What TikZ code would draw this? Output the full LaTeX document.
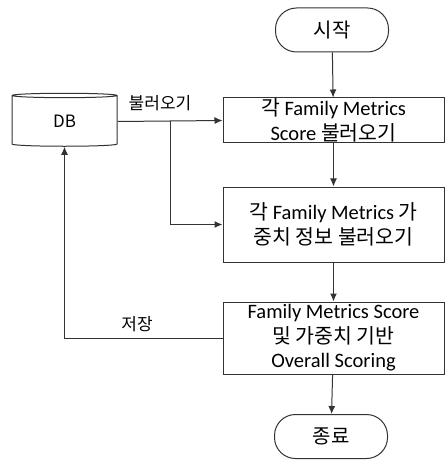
\documentclass[tikz,border=0pt]{standalone}
\usepackage{fontspec}
\setmainfont{Carlito}
\newfontfamily\kr{Noto Sans CJK KR}
\usetikzlibrary{shapes.geometric,arrows.meta}

\tikzset{
  terminal/.style={draw=black!80, line width=1pt, rounded corners=21pt,
    minimum width=113pt, minimum height=44pt, font=\kr\fontsize{20}{24}\selectfont},
  process/.style={draw=black!80, line width=1pt, minimum width=221pt,
    align=center, inner sep=0pt, font=\fontsize{20.5}{24.5}\selectfont},
  database/.style={draw=black!80, line width=1pt, cylinder, shape border rotate=90,
    aspect=0.15, minimum width=105pt, minimum height=53pt,
    font=\kr\fontsize{17}{20}\selectfont},
  flow/.style={draw=black!80, line width=1pt, -{Latex[length=8pt,width=7pt]}},
  tag/.style={font=\kr\fontsize{17}{20}\selectfont}
}

\begin{document}
\begin{tikzpicture}[x=1pt,y=-1pt]
        \useasboundingbox (0,0) rectangle (447,462);

        % the steps
        \node[terminal] (start) at (332,30) {시작};
        \node[process, minimum height=45pt] (loadscore) at (333.5,120.5)
            {{\kr 각} Family Metrics\\Score {\kr 불러오기}};
        \node[process, minimum height=75pt] (loadweight) at (333.5,224.5)
            {{\kr 각} Family Metrics {\kr 가}\\{\kr 중치 정보 불러오기}};
        \node[process, minimum height=72pt] (scoring) at (333.5,338)
            {Family Metrics Score\\{\kr 및 가중치 기반}\\Overall Scoring};
        \node[terminal] (stop) at (331,436.5) {종료};

        % the store
        \node[database] (db) at (64.5,121.5) {DB};
        \coordinate (split) at (170,121.5);

        % main flow
        \draw[flow] (start) -- (loadscore);
        \draw[flow] (loadscore) -- (loadweight);
        \draw[flow] (loadweight) -- (scoring);
        \draw[flow] (scoring) -- (stop);

        % reading from and writing to the store
        \draw[flow] (db.east) -- (loadscore.west);
        \draw[flow] (split) |- (loadweight.west);
        \draw[flow] (scoring.west) -| (db.south);

        \node[tag] (readtag) at (160,103) {불러오기};
        \node[tag] (savetag) at (137,324) {저장};
    \end{tikzpicture}
\end{document}
